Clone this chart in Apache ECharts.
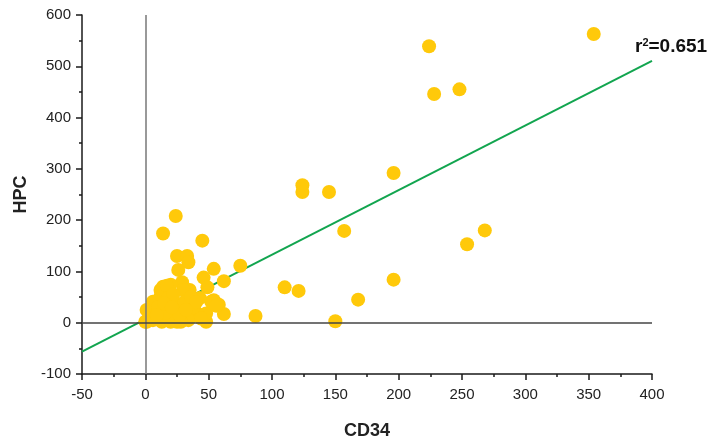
<!DOCTYPE html>
<html>
<head>
<meta charset="utf-8">
<script src="https://cdn.jsdelivr.net/npm/echarts@6/dist/echarts.min.js"></script>
<style>
html,body{margin:0;padding:0;background:#fff;}
#chart{width:709px;height:441px;}
</style>
</head>
<body>
<div id="chart"></div>
<script>
// CD34 (x) values
const cd34 = [354,224,228,248,196,124,124,145,157,254,268,196,168,150,121,110,87,75,62,62,
  24,14,45,25,33,34,26,54,46,29,49,14,35,43,54,58,48,48,52,56,
  6,1,1,12,27,17,25,35,41,30,20,6,12,17,8,4,18,31,23,34,
  13,0,3,20,28,38,22,10,16,27,36,40,15,9,32,21,44];
// HPC (y) values
const hpc = [563,539,446,455,292,268,255,255,179,153,180,84,45,3,62,69,13,111,81,17,
  208,174,160,130,130,118,103,105,88,79,69,70,64,48,44,35,2,18,41,33,
  41,25,2,51,35,12,2,9,18,64,74,5,64,72,41,21,48,41,21,5,
  2,2,12,2,2,30,55,30,20,15,50,40,38,15,25,30,8];
// Regression line endpoints
const fitX = [-50, 400];
const fitY = [-56.5, 510.5];
const r2Label = '0.651';
const xTicks = {min: -50, max: 400, interval: 50};
const yTicks = {min: -100, max: 600, interval: 100};

const points = cd34.map((x, i) => [x, hpc[i]]);
const fit = fitX.map((x, i) => [x, fitY[i]]);

const FONT = 'Liberation Sans, Arial, sans-serif';
const chart = echarts.init(document.getElementById('chart'), null, {renderer: 'canvas'});
const axisCommon = {
  axisLine: {show: true, onZero: false, lineStyle: {color: '#1a1a1a', width: 1.5}},
  axisTick: {show: true, inside: false, length: 6, lineStyle: {color: '#1a1a1a', width: 1.5}},
  minorTick: {show: true, splitNumber: 2, length: 3, lineStyle: {color: '#1a1a1a', width: 1.5}},
  splitLine: {show: false},
  axisLabel: {color: '#222', fontSize: 15, fontFamily: FONT},
  nameTextStyle: {color: '#222', fontSize: 18, fontWeight: 'bold', fontFamily: FONT}
};
chart.setOption({
  animation: false,
  backgroundColor: '#fff',
  grid: {left: 82, right: 57, top: 15, bottom: 67, containLabel: false, outerBoundsMode: 'none'},
  xAxis: Object.assign({}, axisCommon, {
    type: 'value', min: xTicks.min, max: xTicks.max, interval: xTicks.interval,
    name: 'CD34', nameLocation: 'middle', nameGap: 48,
    axisLabel: Object.assign({}, axisCommon.axisLabel, {margin: 13})
  }),
  yAxis: Object.assign({}, axisCommon, {
    type: 'value', min: yTicks.min, max: yTicks.max, interval: yTicks.interval,
    name: 'HPC', nameLocation: 'middle', nameGap: 52, nameRotate: 90,
    axisLabel: Object.assign({}, axisCommon.axisLabel, {margin: 11})
  }),
  series: [
    {
      type: 'line',
      data: fit,
      showSymbol: false,
      symbol: 'none',
      lineStyle: {color: '#12A54F', width: 2},
      z: 3,
      markLine: {
        silent: true, symbol: 'none', label: {show: false},
        data: [
          {xAxis: 0, lineStyle: {color: '#777', width: 1.5, type: 'solid'}},
          {yAxis: 0, lineStyle: {color: '#444', width: 1.5, type: 'solid'}}
        ]
      },
      endLabel: {
        show: true,
        formatter: '{r|r}{s|2}{r|=' + r2Label + '}',
        offset: [-25, -14],
        rich: {
          r: {fontSize: 19, fontWeight: 'bold', color: '#111', fontFamily: FONT},
          s: {fontSize: 11, fontWeight: 'bold', color: '#111', verticalAlign: 'top', padding: [0,0,8,0], fontFamily: FONT}
        }
      }
    },
    {
      type: 'scatter',
      data: points,
      symbolSize: 14,
      itemStyle: {color: '#FFC90A', opacity: 1},
      z: 4
    }
  ]
});
</script>
</body>
</html>
